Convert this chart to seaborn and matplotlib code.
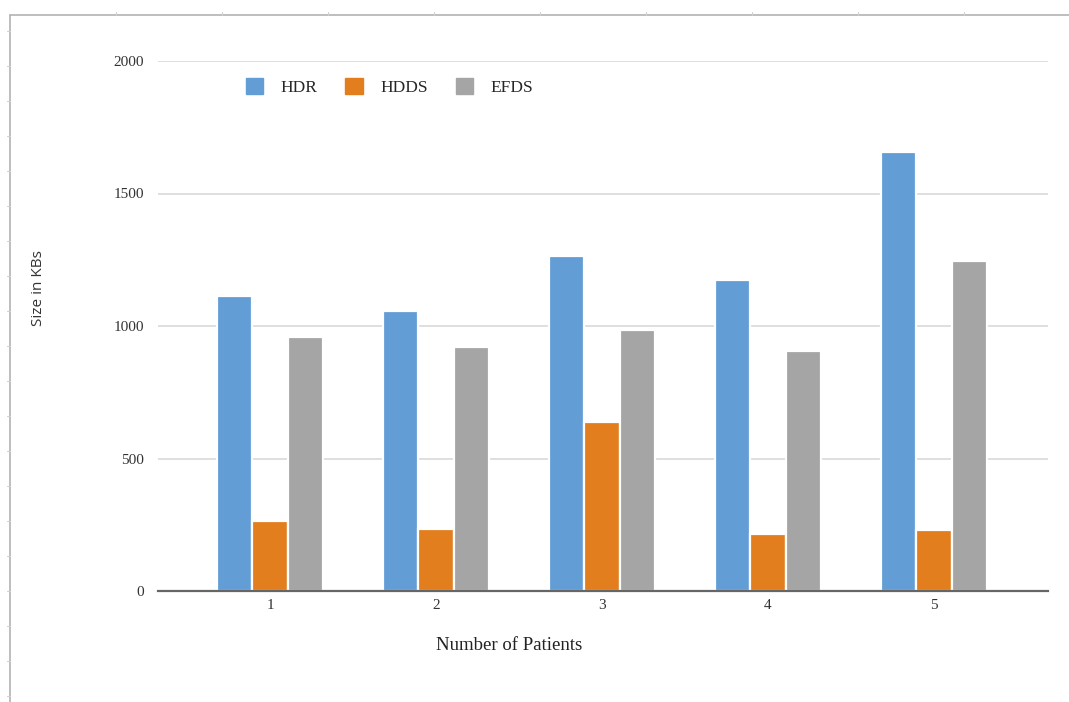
import matplotlib
matplotlib.use("Agg")
import matplotlib.pyplot as plt
import seaborn as sns
import pandas as pd
from matplotlib.patches import Patch
from matplotlib.lines import Line2D

# Data
patients = ["1", "2", "3", "4", "5"]
series_names = ["HDR", "HDDS", "EFDS"]
hdr = [1113, 1057, 1266, 1174, 1658]
hdds = [264, 234, 638, 215, 232]
efds = [958, 920, 985, 906, 1245]
y_ticks = [0, 500, 1000, 1500, 2000]
colors = ["#639DD6", "#E37E1F", "#A5A5A5"]

rows = []
for name, vals in zip(series_names, [hdr, hdds, efds]):
    for p, v in zip(patients, vals):
        rows.append({"Patients": p, "Size": v, "Series": name})
df = pd.DataFrame(rows)

sns.set_theme(style="white")
plt.rcParams["font.family"] = ["Liberation Serif", "DejaVu Serif"]

W, H = 1069, 702
fig = plt.figure(figsize=(W / 100, H / 100), dpi=100)

# axes area in pixels: x 158..1048, y 61..591
ax = fig.add_axes([158 / W, 1 - 591 / H, (1048 - 158) / W, (591 - 61) / H])

sns.barplot(data=df, x="Patients", y="Size", hue="Series", order=patients,
            hue_order=series_names, palette=colors, width=0.64,
            edgecolor="white", linewidth=1.6, saturation=1, ax=ax, legend=False)

ax.set_ylim(0, 2000)
ax.set_xlim(-0.675, 4.687)
ax.set_yticks(y_ticks)
ax.set_yticklabels([str(t) for t in y_ticks], fontsize=11, color="#333333")
ax.tick_params(axis="x", labelsize=11, colors="#333333", length=0, pad=6)
ax.tick_params(axis="y", length=0, pad=10)
ax.yaxis.grid(True, color="#D9D9D9", linewidth=1.2)
ax.set_axisbelow(True)
for side in ["top", "right", "left"]:
    ax.spines[side].set_visible(False)
ax.spines["bottom"].set_color("#666666")
ax.spines["bottom"].set_linewidth(1.6)
ax.set_xlabel("")
ax.set_ylabel("")

fig.text(509 / W, 1 - 645 / H, "Number of Patients", ha="center", va="center",
         fontsize=13.5, color="#222222")
fig.text(38 / W, 1 - 288 / H, "Size in KBs", ha="center", va="center",
         rotation=90, fontsize=11, color="#333333",
         family=["Open Sans", "DejaVu Sans"])

handles = [Patch(facecolor=c, edgecolor=c, label=n) for c, n in zip(colors, series_names)]
fig.legend(handles=handles, loc="center left",
           bbox_to_anchor=(246 / W, 1 - 87 / H), ncol=3, frameon=False,
           fontsize=12.5, handlelength=1.0, handleheight=1.0, handletextpad=1.0,
           columnspacing=1.6, borderpad=0, borderaxespad=0)

# surrounding sheet frame with column and row marks
frame_color = "#B3B3B3"
fig.add_artist(Line2D([10 / W, 1], [1 - 15 / H, 1 - 15 / H], color=frame_color,
                      linewidth=1.2, transform=fig.transFigure))
fig.add_artist(Line2D([10 / W, 10 / W], [0, 1 - 15 / H], color=frame_color,
                      linewidth=1.2, transform=fig.transFigure))
for x in range(116, W, 106):
    fig.add_artist(Line2D([x / W, x / W], [1 - 15 / H, 1 - 12 / H], color="#D0D0D0",
                          linewidth=0.8, transform=fig.transFigure))
for y in range(31, H, 35):
    fig.add_artist(Line2D([7 / W, 10 / W], [1 - y / H, 1 - y / H], color="#D0D0D0",
                          linewidth=0.8, transform=fig.transFigure))

fig.savefig("out.png", dpi=100, facecolor="white")
